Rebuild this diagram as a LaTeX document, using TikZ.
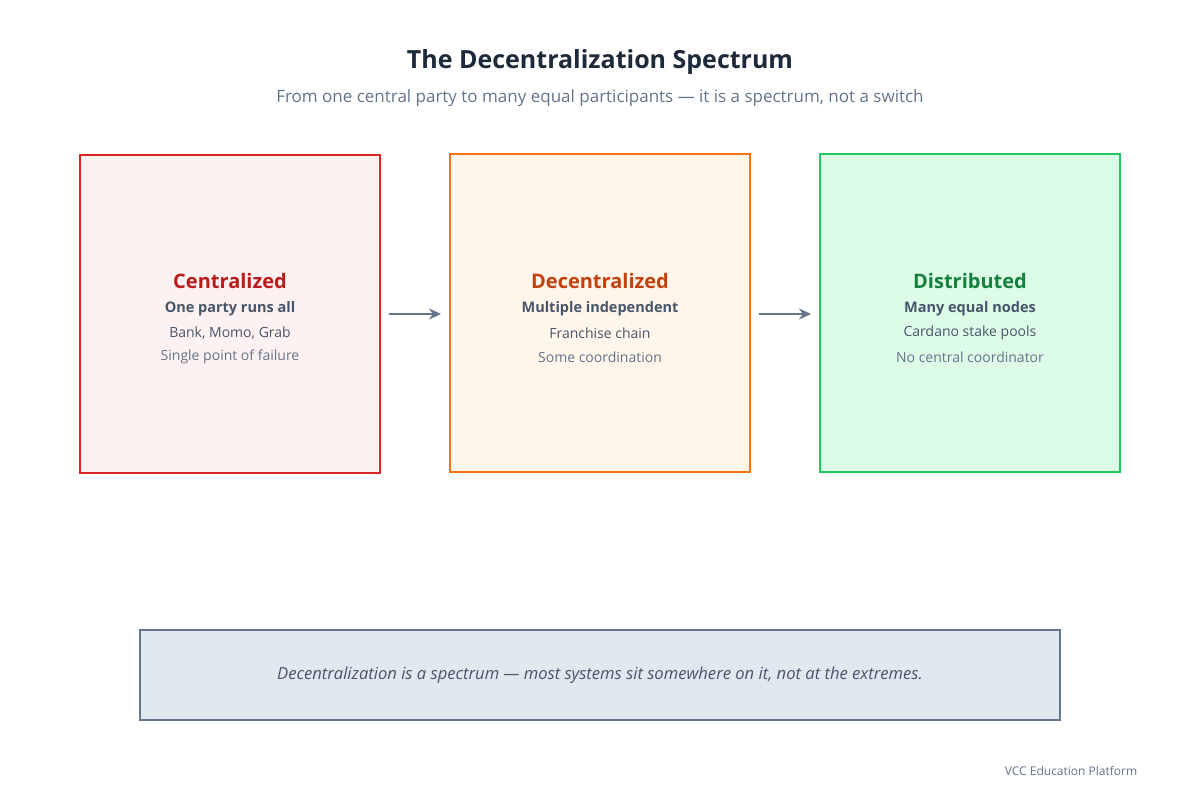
\documentclass[tikz,border=0pt]{standalone}
\usepackage{fontspec}
\setmainfont{Open Sans}
\usetikzlibrary{arrows.meta}
\definecolor{rb}{HTML}{DC2626}\definecolor{rf}{HTML}{FDF1F1}\definecolor{rt}{HTML}{B91C1C}
\definecolor{ob}{HTML}{F97316}\definecolor{of}{HTML}{FFF5EB}\definecolor{ot}{HTML}{C2410C}
\definecolor{gb}{HTML}{22C55E}\definecolor{gf}{HTML}{DCFCE7}\definecolor{gt}{HTML}{15803D}
\definecolor{sb}{HTML}{64748B}\definecolor{sf}{HTML}{E2E8F0}
\definecolor{dk}{HTML}{1E293B}\definecolor{md}{HTML}{475569}
\begin{document}
\begin{tikzpicture}[x=1pt,y=-1pt,
 box/.style={draw,line width=2pt,minimum width=300pt,minimum height=318pt,inner sep=0},
 arr/.style={draw=sb,line width=2pt,-{Stealth[length=12pt,width=11pt]}},
 tt/.style={font=\fontsize{20}{24}\selectfont\bfseries},
 l1/.style={font=\fontsize{14.5}{18}\selectfont\bfseries,text=md},
 l2/.style={font=\fontsize{14}{17}\selectfont,text=md},
 l3/.style={font=\fontsize{14}{17}\selectfont,text=sb}]
\useasboundingbox (0,0) rectangle (1200,800);
\fill[white] (0,0) rectangle (1200,800);
\node[font=\fontsize{25}{30}\selectfont\bfseries,text=dk] (title) at (600,62) {The Decentralization Spectrum};
\node[font=\fontsize{17}{20}\selectfont,text=sb] (sub) at (600,98) {From one central party to many equal participants — it is a spectrum, not a switch};
\node[box,draw=rb,fill=rf] (c) at (230,314) {};
\node[box,draw=ob,fill=of] (d) at (600,313) {};
\node[box,draw=gb,fill=gf] (g) at (970,313) {};
\foreach \n/\x/\col/\a/\b/\cc/\dd in {c/230/rt/Centralized/One party runs all/{Bank, Momo, Grab}/Single point of failure,
 d/600/ot/Decentralized/Multiple independent/Franchise chain/Some coordination,
 g/970/gt/Distributed/Many equal nodes/Cardano stake pools/No central coordinator}{
 \node[tt,text=\col] (\n t) at (\x,281) {\a};
 \node[l1] (\n a) at (\x,309) {\b};
 \node[l2] (\n b) at (\x,333) {\cc};
 \node[l3] (\n c) at (\x,357) {\dd};
}
\draw[arr] ([xshift=8pt]c.east |- 0,314) -- ([xshift=-8pt]d.west |- 0,314);
\draw[arr] ([xshift=8pt]d.east |- 0,314) -- ([xshift=-8pt]g.west |- 0,314);
\node[draw=sb,fill=sf,line width=2pt,minimum width=920pt,minimum height=90pt,
 font=\fontsize{16.6}{20}\selectfont\itshape,text=md] (note) at (600,675)
 {Decentralization is a spectrum — most systems sit somewhere on it, not at the extremes.};
\node[font=\fontsize{12}{14}\selectfont,text=sb] (foot) at (1071,771) {VCC Education Platform};
\end{tikzpicture}
\end{document}
